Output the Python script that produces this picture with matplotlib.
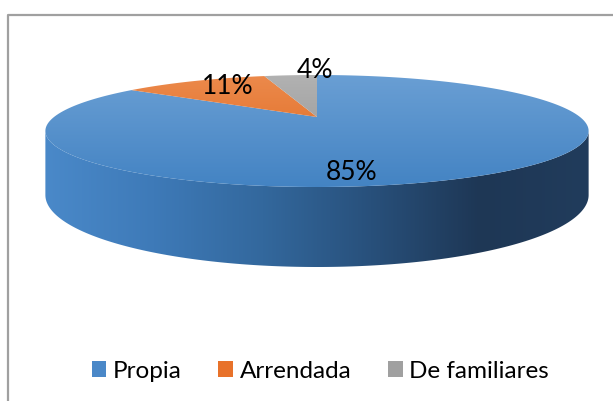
import numpy as np
import matplotlib
matplotlib.use("Agg")
import matplotlib.pyplot as plt
from matplotlib.patches import Polygon, Patch
from matplotlib.colors import LinearSegmentedColormap

labels = ["Propia", "Arrendada", "De familiares"]
shares = [85, 11, 4]
pct_text = ["85%", "11%", "4%"]

top_colors = [("#6a9fd4", "#4383c3"), ("#ec8a4c", "#dd6418"), ("#b2b2b2", "#8f8f8f")]
legend_colors = ["#4a88c8", "#e8722a", "#a0a0a0"]

plt.rcParams["font.family"] = ["Lato", "DejaVu Sans"]

W, H = 613, 401
fig = plt.figure(figsize=(W / 100, H / 100), dpi=100)
ax = fig.add_axes([0, 0, 1, 1])
ax.set_xlim(0, W)
ax.set_ylim(H, 0)
ax.axis("off")

# frame (only top/left visible in the crop)
ax.plot([8, 8, W + 5], [H + 5, 14.5, 14.5], color="#a0a0a0", lw=1.6, zorder=1)

# simple perspective disk: apex at (cx, cy)
cx, cy = 317, 117
Sx, Sy, a, depth = 263, 52.5, 0.25, 60


def proj(X, Y, z=0.0):
    d = 1 + a * Y
    return cx + Sx * X / d, cy - Sy * Y / d + z / d


def arc(t0, t1, z=0.0, n=200):
    t = np.radians(np.linspace(t0, t1, n))
    return proj(np.cos(t), np.sin(t), z)


# side of the cylinder (front half, all Propia)
t1 = 180 + np.degrees(np.arcsin(a))
t2 = 360 - np.degrees(np.arcsin(a))
xt, yt = arc(t1, t2)
xb, yb = arc(t2, t1, depth)
side = Polygon(np.column_stack([np.r_[xt, xb], np.r_[yt, yb]]), closed=True,
               facecolor="none", edgecolor="none")
ax.add_patch(side)
side_cmap = LinearSegmentedColormap.from_list(
    "side", ["#4a89c9", "#3e7ab8", "#33689d", "#28507b", "#1e3755", "#213c5c"])
grad = np.linspace(0, 1, 256).reshape(1, -1)
im = ax.imshow(grad, cmap=side_cmap, extent=[xt.min(), xt.max(), yb.max() + 2, yt.min() - 2],
               aspect="auto", zorder=2)
im.set_clip_path(side)

# top wedges, clockwise from 12 o'clock
start = 90.0
ytop = proj(0, 1)[1]
ybot = proj(0, -1)[1]
for share, (c0, c1) in zip(shares, top_colors):
    end = start - share * 3.6
    xs, ys = arc(start, end)
    poly = Polygon(np.column_stack([np.r_[cx, xs], np.r_[cy, ys]]), closed=True,
                   facecolor="none", edgecolor="none")
    ax.add_patch(poly)
    cm = LinearSegmentedColormap.from_list("t", [c0, c1])
    g = np.linspace(0, 1, 256).reshape(-1, 1)
    im = ax.imshow(g, cmap=cm, extent=[30, 600, ybot + 1, ytop - 1], aspect="auto", zorder=3)
    im.set_clip_path(poly)
    start = end

# data labels
label_pos = [(352, 173), (228, 87), (315, 70)]
for txt, (lx, ly) in zip(pct_text, label_pos):
    ax.text(lx, ly, txt, ha="center", va="center", fontsize=19, color="black", zorder=5)

handles = [Patch(facecolor=c, edgecolor="none") for c in legend_colors]
ax.legend(handles, labels, loc="center", bbox_to_anchor=(320.5 / W, 1 - 371 / H), ncol=3,
          frameon=False, fontsize=17.5, handlelength=0.6, handleheight=0.6,
          handletextpad=0.28, columnspacing=1.5, borderpad=0)

ax.set_xlim(0, W)
ax.set_ylim(H, 0)
fig.savefig("out.png", dpi=100)
